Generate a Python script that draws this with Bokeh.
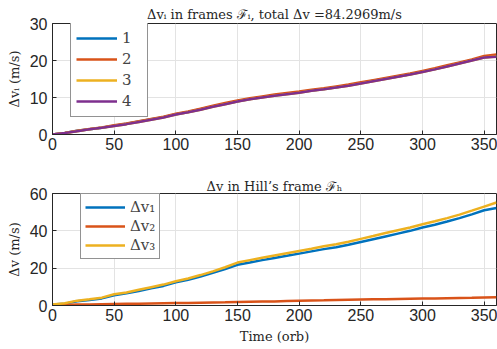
from bokeh.plotting import figure
from bokeh.layouts import column
from bokeh.models import Legend, LegendItem, Range1d, FixedTicker
from bokeh.embed import file_html
from bokeh.resources import INLINE

orbits = [0, 10, 20, 30, 40, 50, 60, 70, 80, 90, 100, 110, 120, 130, 140, 150, 160, 170, 180,
          190, 200, 210, 220, 230, 240, 250, 260, 270, 280, 290, 300, 310, 320, 330, 340, 350, 360]

dv_sat1 = [0, 0.4, 1.0, 1.4, 1.8, 2.4, 2.9, 3.5, 4.1, 4.7, 5.5, 6.1, 6.8, 7.6, 8.3, 9.0, 9.6, 10.1, 10.6,
           11.0, 11.4, 11.9, 12.3, 12.8, 13.3, 13.9, 14.5, 15.1, 15.7, 16.3, 17.0, 17.7, 18.5, 19.3, 20.1, 20.9, 21.2]
dv_sat2 = [0, 0.4, 1.0, 1.5, 1.9, 2.5, 3.0, 3.6, 4.2, 4.8, 5.6, 6.2, 7.0, 7.8, 8.5, 9.2, 9.8, 10.3, 10.8,
           11.2, 11.6, 12.1, 12.5, 13.0, 13.5, 14.1, 14.7, 15.3, 15.9, 16.5, 17.2, 17.9, 18.7, 19.5, 20.3, 21.2, 21.6]
dv_sat3 = [0, 0.4, 0.9, 1.4, 1.8, 2.3, 2.8, 3.4, 4.0, 4.6, 5.4, 6.0, 6.7, 7.5, 8.2, 8.9, 9.5, 10.0, 10.5,
           10.9, 11.3, 11.8, 12.2, 12.7, 13.2, 13.8, 14.4, 15.0, 15.6, 16.2, 16.9, 17.6, 18.4, 19.2, 20.0, 20.8, 21.1]
dv_sat4 = [0, 0.4, 0.9, 1.4, 1.8, 2.3, 2.8, 3.4, 4.0, 4.6, 5.4, 6.0, 6.7, 7.5, 8.2, 8.9, 9.5, 10.0, 10.5,
           10.9, 11.3, 11.8, 12.2, 12.7, 13.2, 13.8, 14.4, 15.0, 15.6, 16.2, 16.9, 17.6, 18.4, 19.2, 20.0, 20.8, 21.0]

dv_h1 = [0.5, 1.0, 2.3, 3.0, 3.8, 5.5, 6.5, 7.8, 9.2, 10.5, 12.4, 13.8, 15.5, 17.5, 19.5, 21.8, 23.0, 24.3, 25.5,
         26.6, 27.8, 29.0, 30.2, 31.2, 32.5, 34.0, 35.5, 37.0, 38.5, 40.0, 41.8, 43.3, 45.0, 46.8, 48.8, 51.0, 52.2]
dv_h2 = [0, 0.3, 0.5, 0.6, 0.7, 0.8, 0.9, 1.0, 1.1, 1.2, 1.3, 1.4, 1.5, 1.6, 1.7, 1.9, 2.0, 2.1, 2.2,
         2.4, 2.6, 2.7, 2.8, 3.0, 3.1, 3.2, 3.3, 3.4, 3.5, 3.6, 3.7, 3.8, 3.9, 4.0, 4.1, 4.3, 4.4]
dv_h3 = [0.5, 1.2, 2.6, 3.3, 4.2, 6.0, 7.0, 8.4, 9.8, 11.2, 13.0, 14.5, 16.3, 18.3, 20.5, 23.0, 24.3, 25.6, 26.8,
         28.0, 29.2, 30.4, 31.7, 32.8, 34.2, 35.7, 37.2, 38.8, 40.3, 41.8, 43.5, 45.1, 46.8, 48.7, 50.8, 53.0, 55.2]

x_ticks = [0, 50, 100, 150, 200, 250, 300, 350]
top_y_ticks = [0, 10, 20, 30]
bot_y_ticks = [0, 20, 40, 60]

top_labels = ["1", "2", "3", "4"]
bot_labels = ["Δv₁", "Δv₂", "Δv₃"]
colors = ["#0072BD", "#D95319", "#EDB120", "#7E2F8E"]

SERIF = "DejaVu Serif"
SANS = "Liberation Sans"


def style(p, yticks):
    p.outline_line_color = "#262626"
    p.outline_line_width = 1
    p.background_fill_color = "white"
    p.border_fill_color = "white"
    p.xaxis.ticker = FixedTicker(ticks=x_ticks)
    p.yaxis.ticker = FixedTicker(ticks=yticks)
    for ax in (p.xaxis, p.yaxis):
        ax.major_tick_in = 4
        ax.major_tick_out = 0
        ax.minor_tick_in = 0
        ax.minor_tick_out = 0
        ax.axis_line_color = "#262626"
        ax.major_tick_line_color = "#262626"
        ax.major_label_text_font = SANS
        ax.major_label_text_font_size = "16px"
        ax.major_label_text_color = "#262626"
        ax.axis_label_text_font = SERIF
        ax.axis_label_text_font_size = "13px"
        ax.axis_label_text_font_style = "normal"
        ax.axis_label_text_color = "#262626"
    p.xaxis.major_label_standoff = 3
    p.yaxis.major_label_standoff = 5
    p.grid.grid_line_color = "#e3e3e3"
    p.grid.grid_line_width = 1
    p.title.text_font = SERIF
    p.title.text_font_size = "13px"
    p.title.text_font_style = "normal"
    p.title.align = "center"
    p.title.text_color = "#262626"
    p.title.standoff = 1
    p.title.offset = 0


top = figure(width=497, height=175, output_backend="svg", toolbar_location=None,
             x_range=Range1d(0, 360), y_range=Range1d(0, 30),
             title="Δvᵢ in frames ℱᵢ, total Δv =84.2969m/s",
             min_border_left=52, min_border_right=1, min_border_top=23, min_border_bottom=41)
style(top, top_y_ticks)
top.title.standoff = 4
top.yaxis.axis_label = "Δvᵢ (m/s)"
series_top = [dv_sat1, dv_sat2, dv_sat3, dv_sat4]
items = []
for lab, ys, c in zip(top_labels, series_top, colors):
    r = top.line(orbits, ys, line_color=c, line_width=2.5)
    items.append(LegendItem(label=lab, renderers=[r]))
leg = Legend(items=items, location=(18, 17), glyph_width=41, glyph_height=20, label_height=20,
             spacing=1, padding=5, label_standoff=5, margin=0,
             label_text_font=SERIF, label_text_font_size="15px",
             border_line_color="#262626", border_line_width=1, background_fill_alpha=1)
top.add_layout(leg, "center")

bot = figure(width=497, height=174, output_backend="svg", toolbar_location=None,
             x_range=Range1d(0, 360), y_range=Range1d(0, 60),
             title="Δv in Hill’s frame ℱₕ",
             min_border_left=52, min_border_right=1, min_border_top=18, min_border_bottom=44)
style(bot, bot_y_ticks)
bot.title.standoff = 0
bot.yaxis.axis_label = "Δv (m/s)"
bot.xaxis.axis_label = "Time (orb)"
series_bot = [dv_h1, dv_h2, dv_h3]
items = []
for lab, ys, c in zip(bot_labels, series_bot, colors[:3]):
    r = bot.line(orbits, ys, line_color=c, line_width=2.5)
    items.append(LegendItem(label=lab, renderers=[r]))
leg2 = Legend(items=items, location=(28, 46), glyph_width=40, glyph_height=18, label_height=18,
              spacing=1, padding=4, label_standoff=5, margin=0,
              label_text_font=SERIF, label_text_font_size="15px",
              border_line_color="#262626", border_line_width=1, background_fill_alpha=1)
bot.add_layout(leg2, "center")

layout = column(top, bot, spacing=0)
open("out.html", "w").write(file_html(layout, INLINE))
